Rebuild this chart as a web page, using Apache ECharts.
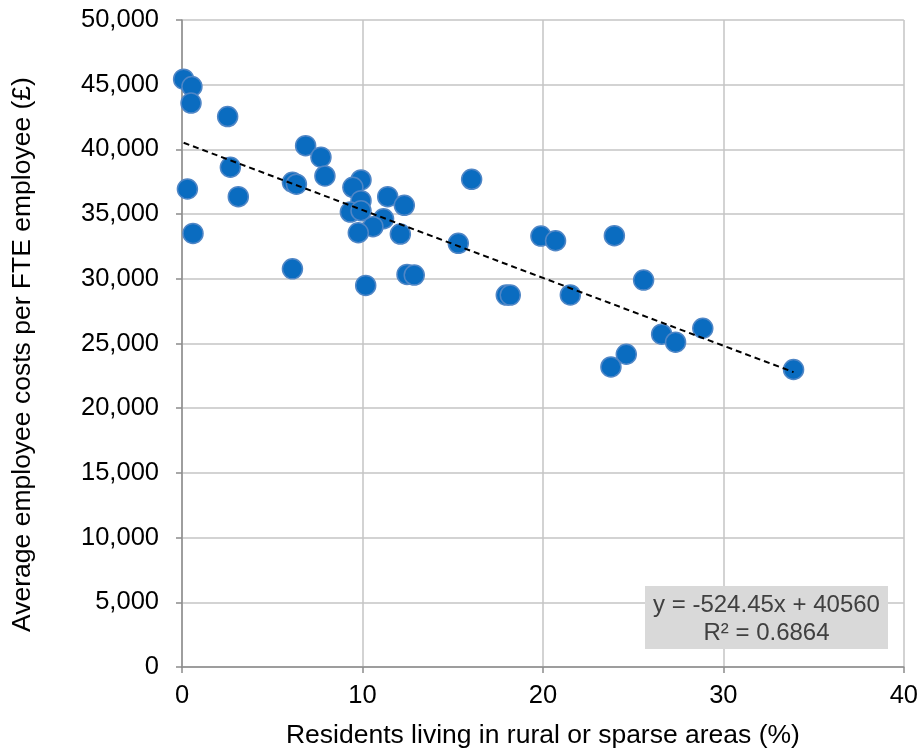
<!DOCTYPE html>
<html>
<head>
<meta charset="utf-8">
<script src="https://cdn.jsdelivr.net/npm/echarts@6/dist/echarts.min.js"></script>
<style>html,body{margin:0;padding:0;background:#fff}#c{width:921px;height:755px}</style>
</head>
<body>
<div id="c"></div>
<script>
// Residents living in rural or sparse areas (%)
const ruralPct = [0.09,0.55,0.5,2.53,6.85,7.7,2.68,7.92,0.3,6.12,6.34,3.12,9.92,9.47,9.92,9.33,9.92,11.4,12.32,11.17,10.58,9.77,12.1,0.61,6.12,10.18,12.47,12.87,16.05,19.89,20.7,23.96,15.31,17.97,18.19,21.52,25.58,33.89,28.86,26.58,27.35,24.62,23.77];
// Average employee costs per FTE employee (£)
const avgCost = [45430,44860,43580,42540,40290,39400,38620,37950,36940,37460,37310,36350,37640,37070,36040,35160,35260,36350,35680,34640,34030,33560,33460,33510,30770,29490,30340,30290,37690,33300,32940,33330,32740,28740,28740,28750,29900,22990,26180,25720,25100,24170,23190];
// Trendline as reported on the chart
const trendSlope = -524.45;
const trendIntercept = 40560;
const trendLabel = ['y = -524.45x + 40560', 'R\u00B2 = 0.6864'];
const xTicks = [0, 10, 20, 30, 40];
const yTicks = [0, 5000, 10000, 15000, 20000, 25000, 30000, 35000, 40000, 45000, 50000];

const points = ruralPct.map((x, i) => [x, avgCost[i]]);
const xMin = Math.min(...ruralPct), xMax = Math.max(...ruralPct);
const trend = [[xMin, trendSlope * xMin + trendIntercept], [xMax, trendSlope * xMax + trendIntercept]];

const chart = echarts.init(document.getElementById('c'));
const font = 'Liberation Sans, Arial, sans-serif';
chart.setOption({
  animation: false,
  grid: { left: 182, right: 17, top: 20, bottom: 88, containLabel: false },
  xAxis: {
    type: 'value', min: xTicks[0], max: xTicks[xTicks.length - 1], interval: 10,
    name: 'Residents living in rural or sparse areas (%)',
    nameLocation: 'middle', nameGap: 55,
    nameTextStyle: { fontFamily: font, fontSize: 26.5, color: '#000' },
    axisLine: { show: true, lineStyle: { color: '#8c8c8c', width: 1.5 } },
    axisTick: { show: true, length: 6, lineStyle: { color: '#8c8c8c', width: 1.5 } },
    axisLabel: { fontFamily: font, fontSize: 25.5, color: '#000', margin: 16 },
    splitLine: { show: true, lineStyle: { color: '#c4c4c4', width: 1.5 } }
  },
  yAxis: {
    type: 'value', min: yTicks[0], max: yTicks[yTicks.length - 1], interval: 5000,
    name: 'Average employee costs per FTE employee (\u00A3)',
    nameLocation: 'middle', nameGap: 146, nameRotate: 90,
    nameTextStyle: { fontFamily: font, fontSize: 26.5, color: '#000', padding: [0, 22, 0, 0] },
    axisLine: { show: true, lineStyle: { color: '#8c8c8c', width: 1.5 } },
    axisTick: { show: true, length: 6, lineStyle: { color: '#8c8c8c', width: 1.5 } },
    axisLabel: { fontFamily: font, fontSize: 25.5, color: '#000', margin: 23,
      formatter: v => v.toLocaleString('en-US') },
    splitLine: { show: true, lineStyle: { color: '#c4c4c4', width: 1.5 } }
  },
  series: [
    {
      type: 'scatter', data: points, symbol: 'circle', symbolSize: 20, z: 2,
      itemStyle: { color: '#0a6cc0', borderColor: '#4f86c6', borderWidth: 1.5, opacity: 1 }
    },
    {
      type: 'line', data: trend, showSymbol: false, symbol: 'none', z: 3,
      lineStyle: { color: '#000', width: 2, type: [6, 4] }, silent: true
    }
  ],
  graphic: [
    {
      type: 'group', left: 645, top: 586, z: 100,
      children: [
        { type: 'rect', z: 100, shape: { x: 0, y: 0, width: 243, height: 63 }, style: { fill: '#d9d9d9' } },
        { type: 'text', z: 101, x: 121.5, y: 19, style: { text: trendLabel[0], font: '24px Liberation Sans, Arial, sans-serif', fill: '#404040', textAlign: 'center', textVerticalAlign: 'middle' } },
        { type: 'text', z: 101, x: 121.5, y: 47, style: { text: trendLabel[1], font: '24px Liberation Sans, Arial, sans-serif', fill: '#404040', textAlign: 'center', textVerticalAlign: 'middle' } }
      ]
    }
  ]
});
</script>
</body>
</html>
